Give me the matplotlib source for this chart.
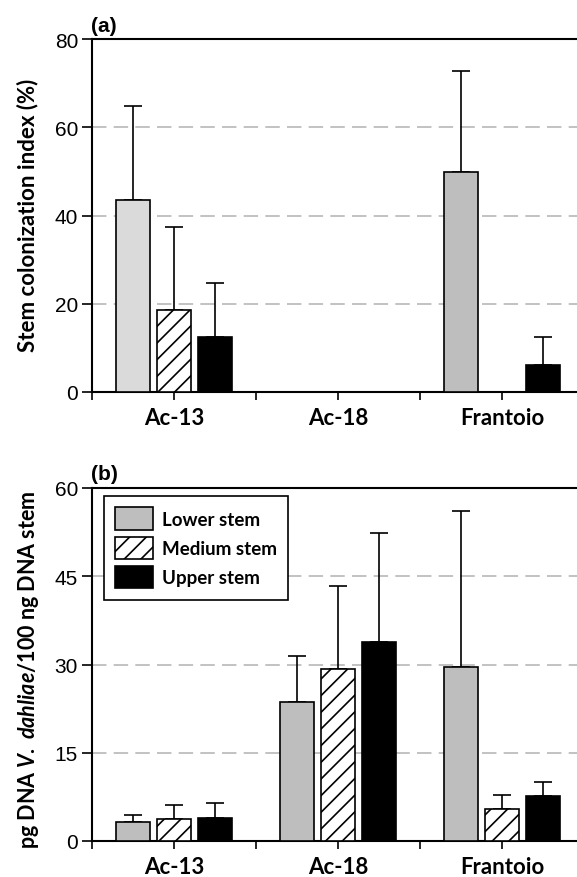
import numpy as np
import matplotlib
matplotlib.use('Agg')
import matplotlib.pyplot as plt
from matplotlib.patches import Patch

plt.rcParams['font.family'] = ['Liberation Sans', 'DejaVu Sans']
plt.rcParams['mathtext.fontset'] = 'custom'
plt.rcParams['mathtext.it'] = 'Lato:italic:bold'
plt.rcParams['mathtext.rm'] = 'Lato:bold'
plt.rcParams['hatch.linewidth'] = 1.2

cultivars = ['Ac-13', 'Ac-18', 'Frantoio']
series = ['Lower stem', 'Medium stem', 'Upper stem']

# panel (a) stem colonization index (%)
a_lower = [43.6, 0, 49.9]
a_lower_err = [21.3, np.nan, 22.9]
a_medium = [18.6, 0, 0]
a_medium_err = [18.7, np.nan, np.nan]
a_upper = [12.5, 0, 6.2]
a_upper_err = [12.3, np.nan, 6.2]

# panel (b) pg DNA V. dahliae / 100 ng DNA stem
b_lower = [3.2, 23.6, 29.6]
b_lower_err = [1.3, 7.9, 26.5]
b_medium = [3.7, 29.3, 5.5]
b_medium_err = [2.35, 14.0, 2.3]
b_upper = [3.85, 33.8, 7.65]
b_upper_err = [2.6, 18.6, 2.45]

a_yticks = [0, 20, 40, 60, 80]
b_yticks = [0, 15, 30, 45, 60]

W, H = 577, 878
fig = plt.figure(figsize=(W / 100, H / 100), dpi=100)

def px_axes(left, top, right, bottom):
    return fig.add_axes([left / W, 1 - bottom / H, (right - left) / W, (bottom - top) / H])

cat_font = dict(family='Lato', weight='bold', size=16)
lower_colors = {'a': ['#dadada', '#bebebe', '#bebebe'], 'b': ['#bebebe', '#bebebe', '#bebebe']}

def draw(ax, key, data, yticks):
    x = np.arange(len(cultivars)) + 0.5
    offs = [-0.25, 0, 0.25]
    w = 0.21
    styles = [dict(color=lower_colors[key]), dict(color='white', hatch='//'), dict(color='black')]
    for i, (vals, err) in enumerate(data):
        vals = np.array(vals, float)
        err = np.array(err, float)
        ax.bar(x + offs[i], vals, w, edgecolor='black', linewidth=1.2, zorder=3, **styles[i])
        ax.errorbar(x + offs[i], vals, yerr=[np.zeros_like(err), err], fmt='none',
                    ecolor='black', elinewidth=1.2, capsize=6.5, capthick=1.2, zorder=2)
    ax.set_xlim(0, 3)
    ax.set_ylim(yticks[0], yticks[-1])
    ax.set_yticks(yticks)
    ax.set_xticks([0, 1, 2, 3])
    ax.set_xticklabels([])
    ax.set_xticks(x, minor=True)
    ax.set_xticklabels(cultivars, minor=True, fontdict=cat_font)
    ax.tick_params(axis='x', which='both', length=6, width=1.2, direction='out', pad=5)
    ax.tick_params(axis='y', length=7, width=1.2, labelsize=15, pad=3)
    ax.yaxis.grid(True, color='#bdbdbd', linestyle=(0, (8, 4)), linewidth=1.3, zorder=0)
    ax.set_axisbelow(True)
    for s in ['left', 'top', 'bottom']:
        ax.spines[s].set_linewidth(1.5)
    ax.spines['right'].set_visible(False)

ax1 = px_axes(92, 40, 584, 393)
draw(ax1, 'a', [(a_lower, a_lower_err), (a_medium, a_medium_err), (a_upper, a_upper_err)], a_yticks)

ax2 = px_axes(92, 489, 584, 842)
draw(ax2, 'b', [(b_lower, b_lower_err), (b_medium, b_medium_err), (b_upper, b_upper_err)], b_yticks)

fig.text(91 / W, 1 - 26 / H, '(a)', fontsize=15, fontweight='bold', ha='left', va='center')
fig.text(91 / W, 1 - 475 / H, '(b)', fontsize=15, fontweight='bold', ha='left', va='center')

fig.text(28 / W, 1 - 215 / H, 'Stem colonization index (%)', rotation=90, ha='center', va='center',
         family='Lato', fontweight='bold', fontsize=16)
fig.text(29 / W, 1 - 670 / H, r'pg DNA $\mathit{V.\ dahliae}$/100 ng DNA stem', rotation=90,
         ha='center', va='center', family='Lato', fontweight='bold', fontsize=15.5)

handles = [Patch(facecolor='#bebebe', edgecolor='black', linewidth=1.2),
           Patch(facecolor='white', edgecolor='black', hatch='//', linewidth=1.2),
           Patch(facecolor='black', edgecolor='black', linewidth=1.2)]
leg = ax2.legend(handles, series, loc='upper left', bbox_to_anchor=(12 / 492, 1 - 8 / 353),
                 prop=dict(family='Lato', weight='bold', size=13.5), frameon=True, fancybox=False,
                 edgecolor='black', handlelength=2.0, handleheight=1.45, borderpad=0.6,
                 labelspacing=0.38, handletextpad=0.5, borderaxespad=0)
leg.get_frame().set_linewidth(1.2)
leg.get_frame().set_alpha(1)

fig.savefig('out.png', dpi=100)
